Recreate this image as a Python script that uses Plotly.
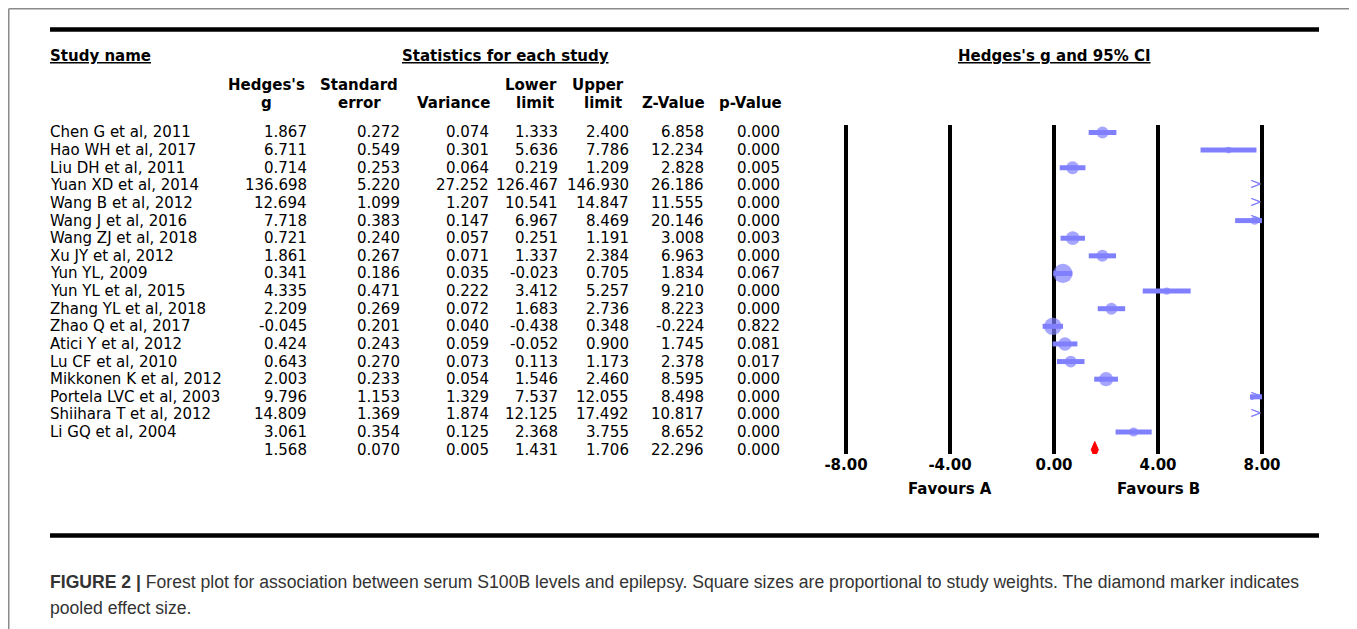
import plotly.graph_objects as go

# ---------------- data ----------------
studies = ["Chen G et al, 2011", "Hao WH et al, 2017", "Liu DH et al, 2011",
           "Yuan XD et al, 2014", "Wang B et al, 2012", "Wang J et al, 2016",
           "Wang ZJ et al, 2018", "Xu JY et al, 2012", "Yun YL, 2009",
           "Yun YL et al, 2015", "Zhang YL et al, 2018", "Zhao Q et al, 2017",
           "Atici Y et al, 2012", "Lu CF et al, 2010", "Mikkonen K et al, 2012",
           "Portela LVC et al, 2003", "Shiihara T et al, 2012", "Li GQ et al, 2004"]
hedges_g = [1.867, 6.711, 0.714, 136.698, 12.694, 7.718, 0.721, 1.861, 0.341,
            4.335, 2.209, -0.045, 0.424, 0.643, 2.003, 9.796, 14.809, 3.061]
std_err = [0.272, 0.549, 0.253, 5.220, 1.099, 0.383, 0.240, 0.267, 0.186,
           0.471, 0.269, 0.201, 0.243, 0.270, 0.233, 1.153, 1.369, 0.354]
variance = [0.074, 0.301, 0.064, 27.252, 1.207, 0.147, 0.057, 0.071, 0.035,
            0.222, 0.072, 0.040, 0.059, 0.073, 0.054, 1.329, 1.874, 0.125]
lower = [1.333, 5.636, 0.219, 126.467, 10.541, 6.967, 0.251, 1.337, -0.023,
         3.412, 1.683, -0.438, -0.052, 0.113, 1.546, 7.537, 12.125, 2.368]
upper = [2.400, 7.786, 1.209, 146.930, 14.847, 8.469, 1.191, 2.384, 0.705,
         5.257, 2.736, 0.348, 0.900, 1.173, 2.460, 12.055, 17.492, 3.755]
z_value = [6.858, 12.234, 2.828, 26.186, 11.555, 20.146, 3.008, 6.963, 1.834,
           9.210, 8.223, -0.224, 1.745, 2.378, 8.595, 8.498, 10.817, 8.652]
p_value = [0.000, 0.000, 0.005, 0.000, 0.000, 0.000, 0.003, 0.000, 0.067,
           0.000, 0.000, 0.822, 0.081, 0.017, 0.000, 0.000, 0.000, 0.000]

pooled_g = 1.568
pooled_se = 0.070
pooled_var = 0.005
pooled_lower = 1.431
pooled_upper = 1.706
pooled_z = 22.296
pooled_p = 0.000

tick_vals = [-8, -4, 0, 4, 8]
tick_text = ["-8.00", "-4.00", "0.00", "4.00", "8.00"]

# ---------------- geometry helpers ----------------
# the page body adds an 8px margin, so the figure starts at (8, 8) of the window
OFF = 8
W, H = 1357 - OFF, 629 - OFF
def px(x):
    return (x - OFF) / W
def py(y):
    return 1 - (y - OFF) / H

ROW0, ROWSTEP = 132.5, 17.62
AX_TOP, AX_BOT = 125, 454
y_top = (AX_TOP - ROW0) / ROWSTEP
y_bot = (AX_BOT - ROW0) / ROWSTEP
XMAX = 8

BLUE = "#8080FF"
FONT = "DejaVu Sans, Liberation Sans, Arial, sans-serif"
CAPFONT = "Liberation Sans, Arial, sans-serif"
FS = 15

n = len(studies)
rows = list(range(n))
pooled_row = n

fig = go.Figure()

# CI lines (clipped at the display limit)
lx, ly = [], []
for i in rows:
    if lower[i] >= XMAX:
        continue
    lx += [lower[i], min(upper[i], XMAX), None]
    ly += [i, i, None]
fig.add_trace(go.Scatter(x=lx, y=ly, mode="lines",
                         line=dict(color=BLUE, width=5), hoverinfo="skip"))

# point estimates, size by weight
mx = [hedges_g[i] for i in rows if hedges_g[i] <= XMAX]
my = [i for i in rows if hedges_g[i] <= XMAX]
ms = [5 + 0.5 / variance[i] for i in rows if hedges_g[i] <= XMAX]
fig.add_trace(go.Scatter(x=mx, y=my, mode="markers",
                         marker=dict(color=BLUE, size=ms, symbol="circle",
                                     line=dict(width=0))))

# arrows for CIs beyond the display limit
ax_ = [XMAX for i in rows if upper[i] > XMAX]
ay_ = [i for i in rows if upper[i] > XMAX]
fig.add_trace(go.Scatter(x=ax_, y=ay_, mode="text", text=[">"] * len(ax_),
                         textposition="middle left",
                         textfont=dict(color=BLUE, size=15, family=FONT)))

# pooled diamond
fig.add_trace(go.Scatter(
    x=[pooled_lower, pooled_g, pooled_upper, pooled_g, pooled_lower],
    y=[pooled_row, pooled_row - 0.46, pooled_row, pooled_row + 0.46, pooled_row],
    mode="lines", fill="toself", fillcolor="#FF0000",
    line=dict(color="#FF0000", width=1)))

ann = []
def text(x, y, s, xanchor="left", size=FS, bold=False, xref="paper", yref="paper",
         color="black", family=FONT):
    ann.append(dict(x=x, y=y, xref=xref, yref=yref, text=("<b>%s</b>" % s) if bold else s,
                    showarrow=False, xanchor=xanchor, yanchor="middle",
                    borderpad=0, borderwidth=0,
                    font=dict(size=size, color=color, family=family)))

# table body
col_right = [307, 400, 489, 558, 629, 704, 780]
for i in rows:
    text(px(50), i, studies[i], yref="y")
    vals = [hedges_g[i], std_err[i], variance[i], lower[i], upper[i], z_value[i], p_value[i]]
    for xr, v in zip(col_right, vals):
        text(px(xr), i, "%.3f" % v, xanchor="right", yref="y")
pvals = [pooled_g, pooled_se, pooled_var, pooled_lower, pooled_upper, pooled_z, pooled_p]
for xr, v in zip(col_right, pvals):
    text(px(xr), pooled_row, "%.3f" % v, xanchor="right", yref="y")

# headers
text(px(50), py(56), "<u>Study name</u>", bold=True)
text(px(402), py(56), "<u>Statistics for each study</u>", bold=True)
text(px(1054), py(56), "<u>Hedges's g and 95% CI</u>", xanchor="center", bold=True)
text(px(266), py(85), "Hedges's", xanchor="center", bold=True)
text(px(266), py(103), "g", xanchor="center", bold=True)
text(px(359), py(85), "Standard", xanchor="center", bold=True)
text(px(359), py(103), "error", xanchor="center", bold=True)
text(px(490), py(103), "Variance", xanchor="right", bold=True)
text(px(531), py(85), "Lower", xanchor="center", bold=True)
text(px(535), py(103), "limit", xanchor="center", bold=True)
text(px(598), py(85), "Upper", xanchor="center", bold=True)
text(px(603), py(103), "limit", xanchor="center", bold=True)
text(px(705), py(103), "Z-Value", xanchor="right", bold=True)
text(px(782), py(103), "p-Value", xanchor="right", bold=True)

# favours labels
text(-4, py(489), "Favours A", xanchor="center", bold=True, xref="x")
text(4, py(489), "Favours B", xanchor="center", bold=True, xref="x")

# caption
text(px(50), py(582),
     "<b>FIGURE 2 |</b> Forest plot for association between serum S100B levels and epilepsy. "
     "Square sizes are proportional to study weights. The diamond marker indicates",
     size=17.6, color="#333333", family=CAPFONT)
text(px(50), py(608), "pooled effect size.", size=17.6, color="#333333", family=CAPFONT)

GRAY = "#8a8a8a"
shapes = [
    # outer frame
    dict(type="line", xref="paper", yref="paper", x0=px(8.75), x1=px(8.75), y0=py(8.75), y1=py(640),
         line=dict(color=GRAY, width=1.5)),
    dict(type="line", xref="paper", yref="paper", x0=px(8.75), x1=px(1355), y0=py(8.75), y1=py(8.75),
         line=dict(color=GRAY, width=1.5)),
    dict(type="line", xref="paper", yref="paper", x0=px(1355), x1=px(1355), y0=py(8.75), y1=py(640),
         line=dict(color=GRAY, width=1.5)),
    # thick rules
    dict(type="line", xref="paper", yref="paper", x0=px(50), x1=px(1319), y0=py(29.5), y1=py(29.5),
         line=dict(color="black", width=4.5)),
    dict(type="line", xref="paper", yref="paper", x0=px(50), x1=px(1319), y0=py(535.5), y1=py(535.5),
         line=dict(color="black", width=4.5)),
]

fig.update_layout(
    width=W, height=H, autosize=False,
    margin=dict(l=0, r=0, t=0, b=0, pad=0),
    paper_bgcolor="white", plot_bgcolor="white",
    showlegend=False,
    font=dict(family=FONT, size=FS, color="black"),
    xaxis=dict(domain=[px(820), px(1288)], range=[-9, 9], tickvals=tick_vals,
               ticktext=tick_text, showgrid=True, gridcolor="black", gridwidth=4,
               zeroline=False, showline=False, ticks="",
               tickfont=dict(family=FONT, size=FS, color="black", weight="bold"),
               fixedrange=True),
    yaxis=dict(domain=[py(AX_BOT), py(AX_TOP)], range=[y_bot, y_top], visible=False,
               fixedrange=True),
    annotations=ann, shapes=shapes,
)

fig.write_html("out.html")
